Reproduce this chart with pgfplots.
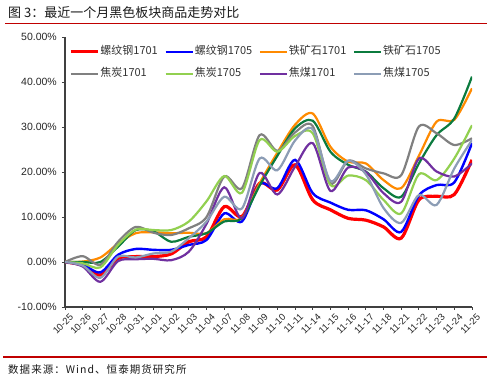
\documentclass[border=0pt]{standalone}
\usepackage{fontspec}
\setmainfont{Liberation Sans}
\newfontfamily\cjk{Noto Sans CJK SC}
\newfontfamily\cjkspaced{Noto Sans CJK SC}[LetterSpace=10]
\usepackage{pgfplots}
\usepackage{pgfplotstable}
\pgfplotsset{compat=1.18}
\definecolor{cR}{HTML}{FF0000}
\definecolor{cB}{HTML}{0000FF}
\definecolor{cO}{HTML}{FF8A00}
\definecolor{cG}{HTML}{0B7B3E}
\definecolor{cGr}{HTML}{808080}
\definecolor{cLG}{HTML}{92D050}
\definecolor{cP}{HTML}{7030A0}
\definecolor{cS}{HTML}{8C9DB5}
\definecolor{axisc}{HTML}{404040}
\definecolor{lineRed}{HTML}{C00000}
\pgfplotstableread{
x r1 r5 i1 i5 c1 c5 m1 m5
0 0 0 0 0 0 0 0 0
1 -0.7 -0.6 0.1 0.0 1.3 -0.3 -1.0 -0.8
2 -2.9 -2.3 1.0 0.0 -0.6 -1.2 -4.4 -3.5
3 0.8 1.6 4.1 3.4 4.5 3.8 0.2 1.2
4 1.2 2.9 6.4 7.1 7.8 7.2 0.6 1.0
5 1.2 2.7 6.6 6.8 6.5 7.1 0.7 1.9
6 1.8 2.7 6.4 4.5 6.0 7.1 0.4 2.3
7 4.5 3.8 6.5 5.6 7.5 9.0 2.3 5.3
8 5.6 4.9 6.4 6.4 10.0 13.5 8.5 9.0
9 12.3 10.8 9.5 9.0 19.0 19.1 16.6 14.5
10 10.1 9.0 9.8 9.7 16.4 15.4 9.7 11.9
11 17.5 17.3 17.5 17.0 28.2 27.1 19.8 23.0
12 16.0 16.4 24.3 23.6 24.7 24.5 15.0 20.4
13 21.6 22.7 30.5 29.7 28.8 28.0 21.2 27.0
14 13.8 15.3 33.0 31.4 30.2 28.6 26.4 29.5
15 11.6 13.2 25.6 24.5 17.5 17.1 15.8 18.0
16 9.7 11.6 22.3 21.6 22.5 19.2 21.0 22.5
17 9.3 11.5 21.9 20.1 20.8 18.2 20.0 19.5
18 7.8 9.5 18.2 16.4 19.7 13.8 15.3 12.0
19 5.3 6.7 16.4 14.5 19.3 10.8 13.4 8.7
20 13.8 14.8 23.6 21.9 30.1 19.5 23.0 14.9
21 14.6 17.1 31.2 28.2 28.6 18.2 20.1 12.7
22 15.0 17.7 31.6 31.9 26.0 23.0 19.0 20.8
23 22.7 26.4 38.6 41.2 27.5 30.4 21.9 27.1
}\datatable
\begin{document}
\begin{tikzpicture}
\path (0bp,0bp) rectangle (490bp,384bp);
\node[anchor=west, inner sep=0pt, text=black!90] at (8bp,371bp) {\cjk\fontsize{13bp}{15bp}\selectfont 图 3：最近一个月黑色板块商品走势对比};
\draw[lineRed, line width=1.8bp] (5bp,360.5bp) -- (487bp,360.5bp);
\draw[lineRed, line width=1.3bp] (3bp,27bp) -- (487bp,27bp);
\node[anchor=west, inner sep=0pt, text=black!90] at (8bp,15bp) {\cjkspaced\fontsize{10.5bp}{12bp}\selectfont 数据来源：Wind、恒泰期货研究所};
\begin{axis}[
  at={(65bp,77bp)}, anchor=south west,
  scale only axis, width=407bp, height=270bp,
  xmin=0, xmax=23, ymin=-10, ymax=50,
  axis x line*=bottom, axis y line*=left,
  axis line style={-, draw=axisc, line width=1.6bp},
  tick style={draw=axisc, line width=1bp},
  tick align=outside, major tick length=3bp,
  xtick={0,...,23},
  xticklabels={10-25,10-26,10-27,10-28,10-31,11-01,11-02,11-03,11-04,11-07,11-08,11-09,11-10,11-11,11-14,11-15,11-16,11-17,11-18,11-21,11-22,11-23,11-24,11-25},
  xticklabel style={rotate=45, anchor=north east, font=\fontsize{9.5bp}{11bp}\selectfont, text=black!85, inner sep=1bp, yshift=-4bp, xshift=2bp},
  ytick={-10,0,10,20,30,40,50},
  yticklabels={-10.00\%,0.00\%,10.00\%,20.00\%,30.00\%,40.00\%,50.00\%},
  yticklabel style={font=\fontsize{10.5bp}{12bp}\selectfont, text=black!85, inner sep=1bp, xshift=-4bp},
  legend columns=4,
  legend cell align=left,
  legend image code/.code={\draw[#1] (0bp,0bp) -- (27bp,0bp);},
  legend style={draw=none, fill=none, at={(0,1)}, anchor=north west, xshift=4bp, yshift=-8bp,
    font=\cjk\fontsize{11bp}{13bp}\selectfont, text=black!80, inner sep=0pt,
    row sep=9bp,
    nodes={inner sep=1bp, text width=61bp, text height=8bp, text depth=3bp},
    /tikz/every even column/.append style={column sep=2bp}},
  every axis plot/.append style={no markers, smooth},
]
\addplot[cR, line width=3.2bp] table[x=x,y=r1]{\datatable};
\addlegendentry{螺纹钢1701}
\addplot[cB, line width=2.4bp] table[x=x,y=r5]{\datatable};
\addlegendentry{螺纹钢1705}
\addplot[cO, line width=2.2bp] table[x=x,y=i1]{\datatable};
\addlegendentry{铁矿石1701}
\addplot[cG, line width=2.2bp] table[x=x,y=i5]{\datatable};
\addlegendentry{铁矿石1705}
\addplot[cGr, line width=2.2bp] table[x=x,y=c1]{\datatable};
\addlegendentry{焦炭1701}
\addplot[cLG, line width=2.2bp] table[x=x,y=c5]{\datatable};
\addlegendentry{焦炭1705}
\addplot[cP, line width=2.2bp] table[x=x,y=m1]{\datatable};
\addlegendentry{焦煤1701}
\addplot[cS, line width=2.2bp] table[x=x,y=m5]{\datatable};
\addlegendentry{焦煤1705}
\end{axis}
\end{tikzpicture}
\end{document}
